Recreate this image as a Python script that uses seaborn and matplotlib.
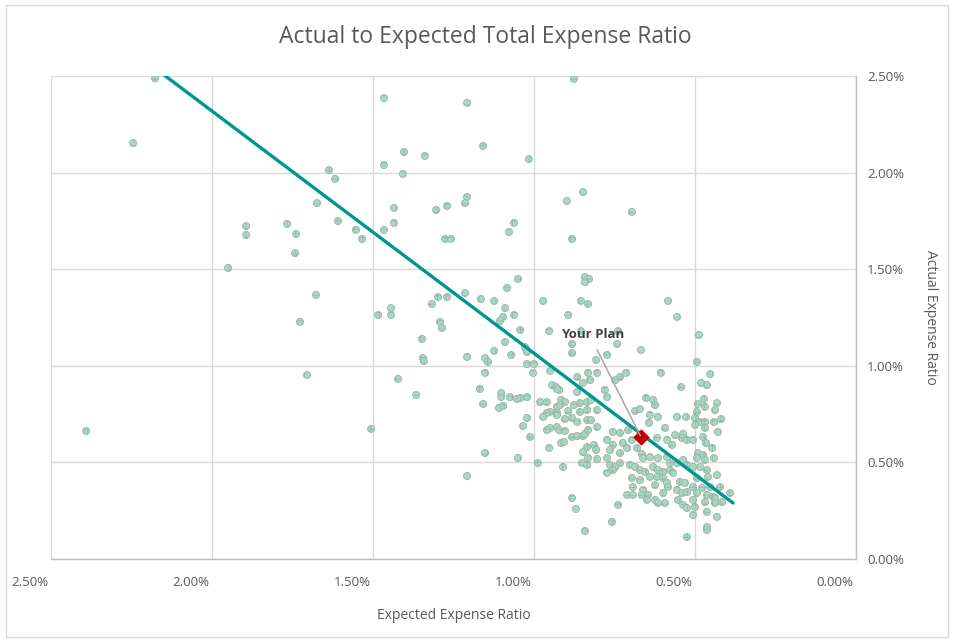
import matplotlib
matplotlib.use("Agg")
import matplotlib.pyplot as plt
import matplotlib.transforms as mtransforms
from matplotlib.patches import Rectangle
from matplotlib.ticker import FuncFormatter
import seaborn as sns
import pandas as pd

# Expected vs actual expense ratio (%) for each plan
expected_ratio = [
    2.177, 2.245, 2.391, 1.894, 1.894, 1.950, 1.466, 1.208, 1.158, 1.404,
    1.339, 1.466, 1.407, 1.016, 1.637, 1.618, 1.674, 1.208, 1.214, 1.435,
    1.304, 1.270, 1.767, 1.739, 1.742, 1.609, 1.553, 1.534, 1.466, 1.435,
    1.276, 1.258, 1.062, 1.078, 1.677, 1.727, 1.484, 1.444, 1.444, 1.348,
    1.345, 1.317, 1.298, 1.270, 1.214, 1.165, 1.124, 1.090, 1.084, 1.050,
    0.972, 1.292, 1.286, 1.096, 1.106, 1.062, 1.043, 1.090, 1.124, 1.208,
    1.152, 1.071, 1.025, 0.953, 1.705, 1.506, 1.422, 1.366, 1.342, 1.143,
    1.022, 1.000, 1.003, 1.152, 1.168, 1.158, 1.102, 1.102, 1.075, 1.053,
    1.043, 1.022, 1.109, 1.096, 1.022, 1.034, 1.012, 1.152, 1.050, 1.208,
    0.988, 0.876, 0.848, 0.898, 0.696, 0.882, 0.842, 0.829, 0.842, 0.854,
    0.832, 0.584, 0.556, 0.894, 0.854, 0.739, 0.488, 1.028, 1.022, 0.882,
    0.882, 0.950, 0.832, 0.804, 0.807, 0.910, 0.882, 0.870, 0.842,
    # dense cluster, 0.80% - 1.00%
    0.944, 0.932, 0.922, 0.929, 0.866, 0.848, 0.826, 0.866, 0.981, 0.960,
    0.916, 0.904, 0.929, 0.919, 0.876, 0.857, 0.835, 0.823, 0.950, 0.960,
    0.972, 0.929, 0.929, 0.894, 0.857, 0.835, 0.804, 0.904, 0.882, 0.866,
    0.835, 0.823, 0.950, 0.960, 0.929, 0.922, 0.904, 0.882, 0.866, 0.848,
    0.842, 0.832, 0.804, 0.916, 0.907, 0.953, 0.848, 0.835, 0.814, 0.807,
    0.851, 0.835, 0.832, 0.804,
    # dense cluster, 0.52% - 0.78%
    0.742, 0.668, 0.773, 0.606, 0.714, 0.733, 0.748, 0.543, 0.780, 0.773,
    0.652, 0.630, 0.624, 0.686, 0.671, 0.640, 0.615, 0.643, 0.556, 0.528,
    0.593, 0.562, 0.537, 0.540, 0.525, 0.755, 0.733, 0.708, 0.773, 0.755,
    0.724, 0.696, 0.618, 0.587, 0.571, 0.764, 0.733, 0.711, 0.680, 0.665,
    0.640, 0.661, 0.615, 0.587, 0.578, 0.556, 0.537, 0.525, 0.773, 0.764,
    0.748, 0.733, 0.702, 0.686, 0.671, 0.655, 0.630, 0.615, 0.599, 0.578,
    0.773, 0.755, 0.696, 0.671, 0.640, 0.618, 0.599, 0.587, 0.568, 0.547,
    0.531, 0.693, 0.624, 0.661, 0.711, 0.693, 0.665, 0.646, 0.599, 0.584,
    0.556, 0.540, 0.525, 0.624, 0.615, 0.593, 0.649, 0.553, 0.537, 0.525,
    0.739, 0.758, 0.525,
    # dense cluster, 0.39% - 0.51%
    0.494, 0.453, 0.481, 0.463, 0.472, 0.491, 0.469, 0.432, 0.438, 0.419,
    0.441, 0.429, 0.494, 0.500, 0.484, 0.469, 0.500, 0.469, 0.475, 0.466,
    0.506, 0.447, 0.491, 0.475, 0.494, 0.469, 0.441, 0.506, 0.484, 0.463,
    0.432, 0.460, 0.494, 0.506, 0.478, 0.453, 0.422, 0.494, 0.463, 0.444,
    0.416, 0.391, 0.506, 0.469, 0.438, 0.500, 0.506, 0.463, 0.438, 0.432,
    0.463, 0.463,
]
actual_ratio = [
    2.490, 2.155, 0.663, 1.725, 1.679, 1.508, 2.388, 2.363, 2.140, 2.109,
    2.088, 2.041, 1.995, 2.072, 2.015, 1.969, 1.844, 1.876, 1.844, 1.819,
    1.808, 1.829, 1.736, 1.684, 1.585, 1.751, 1.705, 1.658, 1.705, 1.741,
    1.658, 1.658, 1.741, 1.694, 1.368, 1.228, 1.264, 1.300, 1.264, 1.140,
    1.041, 1.321, 1.357, 1.357, 1.378, 1.347, 1.337, 1.300, 1.404, 1.451,
    1.337, 1.228, 1.197, 1.254, 1.233, 1.264, 1.186, 1.124, 1.078, 1.047,
    1.041, 1.057, 1.088, 1.181, 0.953, 0.674, 0.933, 0.850, 1.026, 1.021,
    1.010, 1.010, 0.964, 0.964, 0.881, 0.803, 0.860, 0.839, 0.839, 0.829,
    0.834, 0.839, 0.782, 0.793, 0.731, 0.689, 0.632, 0.549, 0.523, 0.430,
    0.497, 2.487, 1.901, 1.855, 1.798, 1.658, 1.461, 1.451, 1.435, 1.337,
    1.321, 1.337, 1.254, 1.264, 1.181, 1.181, 1.161, 1.098, 1.072, 1.114,
    1.067, 0.974, 0.964, 0.964, 1.031, 0.477, 0.316, 0.259, 0.145,
    # dense cluster, 0.80% - 1.00%
    0.901, 0.891, 0.876, 0.881, 0.943, 0.912, 0.927, 0.865, 0.813, 0.813,
    0.824, 0.813, 0.788, 0.798, 0.798, 0.808, 0.813, 0.824, 0.762, 0.756,
    0.736, 0.756, 0.746, 0.767, 0.762, 0.772, 0.772, 0.725, 0.731, 0.710,
    0.720, 0.720, 0.679, 0.668, 0.684, 0.668, 0.663, 0.632, 0.637, 0.637,
    0.648, 0.668, 0.684, 0.601, 0.606, 0.575, 0.554, 0.580, 0.591, 0.565,
    0.497, 0.487, 0.523, 0.518,
    # dense cluster, 0.52% - 0.78%
    1.114, 1.083, 1.057, 0.964, 0.964, 0.943, 0.927, 0.891, 0.876, 0.839,
    0.834, 0.824, 0.798, 0.767, 0.777, 0.746, 0.736, 0.705, 0.736, 0.736,
    0.679, 0.642, 0.648, 0.627, 0.617, 0.658, 0.653, 0.668, 0.617, 0.591,
    0.601, 0.617, 0.627, 0.617, 0.591, 0.565, 0.549, 0.575, 0.575, 0.544,
    0.528, 0.523, 0.523, 0.528, 0.497, 0.497, 0.513, 0.487, 0.523, 0.487,
    0.477, 0.497, 0.487, 0.477, 0.461, 0.451, 0.477, 0.461, 0.451, 0.461,
    0.446, 0.461, 0.420, 0.409, 0.425, 0.425, 0.420, 0.394, 0.446, 0.399,
    0.394, 0.373, 0.383, 0.357, 0.332, 0.332, 0.332, 0.332, 0.342, 0.373,
    0.357, 0.342, 0.347, 0.306, 0.290, 0.290, 0.306, 0.306, 0.280, 0.264,
    0.280, 0.192, 0.114,
    # dense cluster, 0.39% - 0.51%
    1.021, 0.958, 0.912, 0.901, 0.829, 0.803, 0.788, 0.808, 0.772, 0.725,
    0.710, 0.658, 0.762, 0.731, 0.710, 0.710, 0.694, 0.679, 0.632, 0.601,
    0.617, 0.575, 0.549, 0.539, 0.523, 0.513, 0.523, 0.477, 0.477, 0.461,
    0.435, 0.425, 0.420, 0.373, 0.368, 0.373, 0.373, 0.342, 0.332, 0.321,
    0.295, 0.342, 0.306, 0.295, 0.316, 0.269, 0.228, 0.244, 0.290, 0.218,
    0.166, 0.150,
]

# Linear trendline end points
trend_expected = [2.39, 0.382]
trend_actual = [2.81, 0.29]

plan_expected = [0.668]
plan_actual = [0.632]

axis_ticks = [0.0, 0.5, 1.0, 1.5, 2.0, 2.5]

df = pd.DataFrame({"expected": expected_ratio, "actual": actual_ratio})
trend = pd.DataFrame({"expected": trend_expected, "actual": trend_actual})
plan = pd.DataFrame({"expected": plan_expected, "actual": plan_actual})

sns.set_theme(style="white")
plt.rcParams["font.family"] = ["Open Sans", "DejaVu Sans"]
plt.rcParams["hatch.linewidth"] = 0.5

text_color = "#595959"
grid_color = "#d9d9d9"

fig = plt.figure(figsize=(9.54, 6.42), dpi=100)
ax = fig.add_axes([0.0535, 0.1293, 0.8438, 0.7516])

sns.scatterplot(data=df, x="expected", y="actual", ax=ax, s=26,
                color="#a8d8c4", edgecolor="#9ab3a7", linewidth=0.6,
                hatch="++", zorder=3, legend=False)
sns.lineplot(data=trend, x="expected", y="actual", ax=ax, color="#00968f",
             linewidth=2.4, zorder=4, legend=False)
sns.scatterplot(data=plan, x="expected", y="actual", ax=ax, marker="D",
                s=60, color="#c00000", edgecolor="#c00000", zorder=5,
                legend=False)

ax.annotate("Your Plan", xy=(plan_expected[0], plan_actual[0]),
            xytext=(0.817, 1.161), textcoords="data", ha="center", va="center",
            fontsize=9.5, fontweight="bold", color="#404040", zorder=6,
            arrowprops=dict(arrowstyle="-", color="#a6a6a6", lw=1.1,
                            shrinkA=4, shrinkB=1, relpos=(0.5, 0.0)))

ax.set_xlim(2.5, 0.0)
ax.set_ylim(0.0, 2.5)
ax.set_xticks(axis_ticks)
ax.set_yticks(axis_ticks)
pct = FuncFormatter(lambda v, _: f"{v:.2f}%")
ax.xaxis.set_major_formatter(pct)
ax.yaxis.set_major_formatter(pct)

ax.yaxis.tick_right()
ax.yaxis.set_label_position("right")
ax.tick_params(axis="both", length=0, labelsize=9.5, labelcolor=text_color)
ax.tick_params(axis="x", pad=12)
ax.tick_params(axis="y", pad=8)
for label in ax.get_yticklabels():
    label.set_horizontalalignment("left")

# Excel shifts the category labels a little to the left
shift = mtransforms.ScaledTranslation(-0.21, 0, fig.dpi_scale_trans)
for label in ax.get_xticklabels():
    label.set_transform(label.get_transform() + shift)

ax.grid(True, color=grid_color, linewidth=1.0)
ax.set_axisbelow(True)
for side in ["top", "left"]:
    ax.spines[side].set_visible(False)
for side in ["bottom", "right"]:
    ax.spines[side].set_color("#bfbfbf")
    ax.spines[side].set_linewidth(1.0)

ax.set_xlabel("Expected Expense Ratio", fontsize=10, color=text_color, labelpad=14)
ax.set_ylabel("Actual Expense Ratio", fontsize=10, color=text_color,
              rotation=-90, labelpad=24)

fig.text(0.509, 0.942, "Actual to Expected Total Expense Ratio", ha="center",
         va="center", fontsize=16.5, color=text_color)

fig.patches.append(Rectangle((0.006, 0.008), 0.988, 0.984, transform=fig.transFigure,
                             fill=False, edgecolor=grid_color, linewidth=1.0))

fig.savefig("out.png", dpi=100)
plt.close(fig)
